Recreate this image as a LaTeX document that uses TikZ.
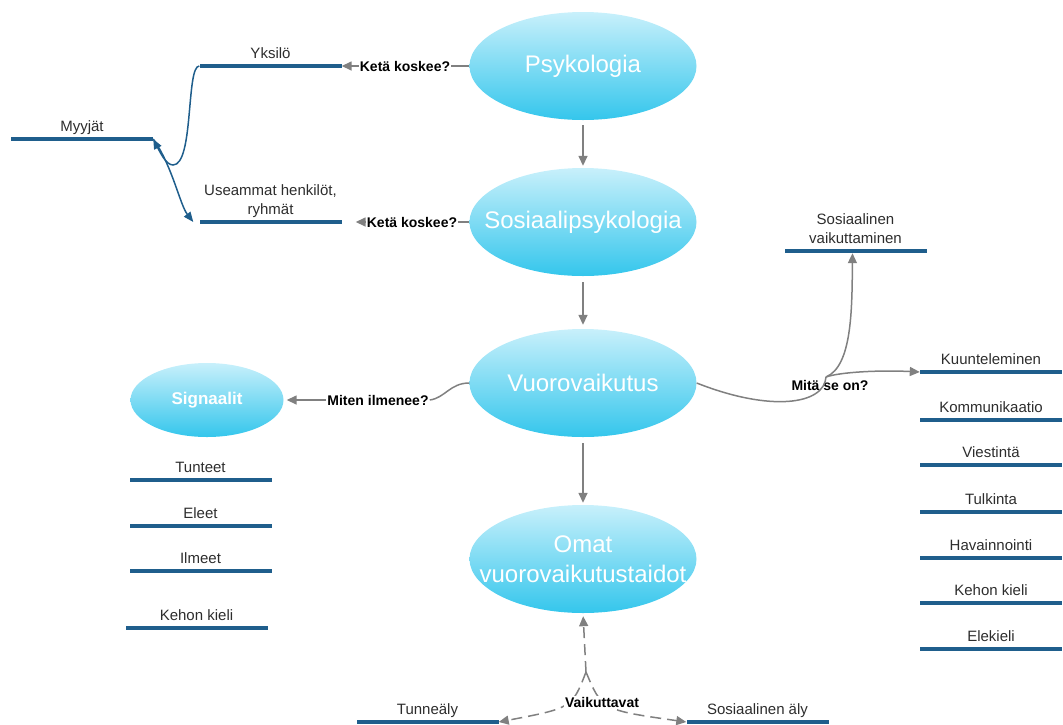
\documentclass[tikz,border=0pt]{standalone}
\usepackage{fontspec}
\setmainfont{Liberation Sans}
\usetikzlibrary{arrows.meta,shapes.geometric}
\definecolor{barblue}{RGB}{31,94,140}
\definecolor{linegrey}{RGB}{128,128,128}
\definecolor{bubtop}{RGB}{200,240,251}
\definecolor{bubbot}{RGB}{52,198,236}
\definecolor{leafgrey}{RGB}{45,45,45}
\tikzset{
  bubble/.style={ellipse,top color=bubtop,bottom color=bubbot,draw=none,
    minimum width=227pt,minimum height=108pt,inner sep=0pt},
  bubtext/.style={text=white,font=\fontsize{24}{30}\selectfont,align=center,inner sep=0pt},
  bar/.style={fill=barblue,minimum width=142pt,minimum height=4pt,inner sep=0pt,label distance=0pt},
  leaftext/.style={font=\fontsize{15}{19}\selectfont,text=leafgrey,align=center,inner sep=0pt,
    text depth=0pt,yshift=5pt},
  ask/.style={font=\bfseries\fontsize{14}{16}\selectfont,inner sep=1pt},
  gline/.style={linegrey,line width=1.5pt},
  garrow/.style={gline,-{Triangle[length=10pt,width=9pt]}},
  barrow/.style={barblue,line width=1.5pt,-{Triangle[length=10pt,width=8pt]}},
  gdash/.style={garrow,dash pattern=on 11pt off 6pt}
}
\begin{document}
\begin{tikzpicture}[x=1pt,y=-1pt]
\useasboundingbox (0,0) rectangle (1063,724);
\node[bubble,label={[bubtext]center:Psykologia}] (psyk) at (583,66) {};
\node[bubble,label={[bubtext]center:Sosiaalipsykologia}] (sospsyk) at (583,222) {};
\node[bubble,label={[bubtext]center:Vuorovaikutus}] (vuoro) at (583,383) {};
\node[bubble,label={[bubtext]center:{Omat\\vuorovaikutustaidot}}] (omat) at (583,559) {};
\node[bubble,minimum width=153pt,minimum height=74pt,
  label={[bubtext,font=\bfseries\fontsize{17}{20}\selectfont]center:Signaalit}] (sign) at (207,400) {};

\node[bar,label={[leaftext]above:Yksilö}] (yksilo) at (270.5,66) {};
\node[bar,label={[leaftext]above:{Useammat henkilöt,\\ryhmät}}] (useam) at (270.5,222) {};
\node[bar,label={[leaftext]above:Myyjät}] (myyj) at (82,139) {};
\node[bar,label={[leaftext]above:{Sosiaalinen\\vaikuttaminen}}] (svaik) at (855.5,251) {};
\node[bar,label={[leaftext]above:Tunneäly}] (tunne) at (427.5,722) {};
\node[bar,label={[leaftext]above:Sosiaalinen äly}] (sosaly) at (757.5,722) {};
\foreach \txt/\yy [count=\i] in {Kuunteleminen/372,Kommunikaatio/420,Viestintä/465,Tulkinta/512,
    Havainnointi/558,Kehon kieli/603,Elekieli/649}
  \node[bar,label={[leaftext]above:\txt}] (r\i) at (991,\yy) {};
\foreach \txt/\yy [count=\i] in {Tunteet/480,Eleet/526,Ilmeet/571}
  \node[bar,label={[leaftext]above:\txt}] (l\i) at (200.5,\yy) {};
\node[bar,label={[leaftext]above:Kehon kieli}] (l4) at (196.5,628) {};

\node[ask] (ask1) at (405,66) {Ketä koskee?};
\node[ask] (ask2) at (412,222) {Ketä koskee?};
\node[ask] (ask3) at (378,400) {Miten ilmenee?};
\node[ask] (ask4) at (830,385) {Mitä se on?};
\node[ask,fill=white] (ask5) at (602,702) {Vaikuttavat};
\coordinate (mj) at (826,377);
\coordinate (vj) at (586,672);

\draw[garrow,shorten <=5pt,shorten >=2pt] (psyk.south) -- (sospsyk.north);
\draw[garrow,shorten <=6pt,shorten >=4pt] (sospsyk.south) -- (vuoro.north);
\draw[garrow,shorten <=6pt,shorten >=2pt] (vuoro.south) -- (omat.north);
\draw[gline] (psyk.west) -- (ask1.east);
\draw[garrow] (ask1.west) -- (yksilo.east);
\draw[gline] (sospsyk.west) -- (ask2.east);
\draw[garrow,shorten >=14pt] (ask2.west) -- (useam.east);
\draw[gline] (vuoro.west) .. controls (450,383) and (445,398) .. (ask3.east);
\draw[garrow,shorten >=3pt] (ask3.west) -- (sign.east);
\draw[gline] (vuoro.east) .. controls (770,412) and (824,405) .. (mj);
\draw[garrow] (mj) .. controls (852,366) and (852,310) .. ([xshift=-3pt]svaik.south);
\draw[garrow] (mj) .. controls (840,372) and (880,370) .. (r1.west);
\draw[barrow] (yksilo.west) .. controls (186,66) and (194,165) .. (173,165)
  .. controls (166,165) and (160,152) .. (myyj.east);
\draw[barrow] (myyj.east) .. controls (172,165) and (180,205) .. ([xshift=-6pt]useam.west);
\draw[gdash,shorten >=3pt] (vj) -- (omat.south);
\draw[gdash] (vj) .. controls (572,708) .. (tunne.east);
\draw[gdash] (vj) .. controls (602,710) .. (sosaly.west);
\node[ask,fill=white] at (ask5) {Vaikuttavat};
\end{tikzpicture}
\end{document}
